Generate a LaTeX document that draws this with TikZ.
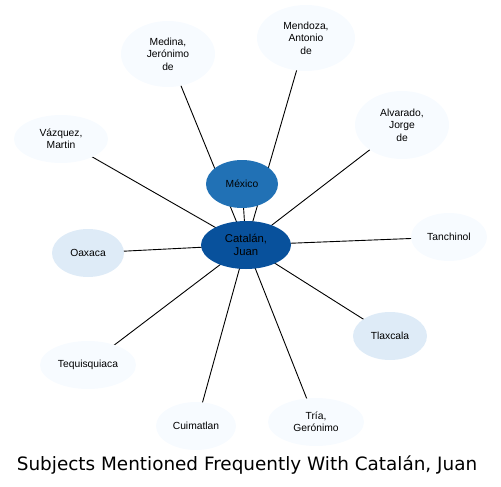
\documentclass[tikz,border=0pt]{standalone}
\usepackage{fontspec}
\setmainfont{Liberation Sans}
\newfontfamily\titlefont{DejaVu Sans}
\usetikzlibrary{shapes.geometric}
\pgfdeclarelayer{bg}
\pgfsetlayers{bg,main}
\definecolor{cdark}{HTML}{08519C}
\definecolor{cmid}{HTML}{2171B5}
\definecolor{clight}{HTML}{DEEBF7}
\definecolor{cpale}{HTML}{F7FBFF}
\begin{document}
\begin{tikzpicture}[x=1pt,y=-1pt,
  bub/.style={ellipse,inner sep=0pt,outer sep=0pt,align=center,font=\fontsize{10.3}{12.5}\selectfont},
  pale/.style={bub,fill=cpale},
  light/.style={bub,fill=clight},
  link/.style={draw=black,line width=0.9pt}]
\useasboundingbox (0,0) rectangle (501,487);
\node[bub,fill=cdark,minimum width=90,minimum height=48,font=\fontsize{11.3}{13.5}\selectfont] (cat) at (246,245) {Catalán,\\Juan};
\node[bub,fill=cmid,minimum width=72,minimum height=48] (mex) at (242,184) {México};
\node[pale,minimum width=94,minimum height=66] (med) at (168,54) {Medina,\\Jerónimo\\de};
\node[pale,minimum width=98,minimum height=66] (men) at (306,38) {Mendoza,\\Antonio\\de};
\node[pale,minimum width=94,minimum height=68] (alv) at (402,125) {Alvarado,\\Jorge\\de};
\node[pale,minimum width=94,minimum height=48] (vaz) at (61,139) {Vázquez,\\Martin};
\node[light,minimum width=72,minimum height=48] (oax) at (88,253) {Oaxaca};
\node[pale,minimum width=76,minimum height=48] (tan) at (449,237) {Tanchinol};
\node[light,minimum width=74,minimum height=48] (tla) at (390,336) {Tlaxcala};
\node[pale,minimum width=96,minimum height=48] (teq) at (88,365) {Tequisquiaca};
\node[pale,minimum width=80,minimum height=48] (cui) at (196,426) {Cuimatlan};
\node[pale,minimum width=96,minimum height=48] (tri) at (316,422) {Tría,\\Gerónimo};
\begin{pgfonlayer}{bg}
\foreach \n in {mex,med,men,alv,vaz,oax,tan,tla,teq,cui,tri}
  \draw[link] (cat.center) -- (\n.center);
\end{pgfonlayer}
\node[font=\titlefont\fontsize{18.4}{20}\selectfont,inner sep=0pt] (title) at (247,465) {Subjects Mentioned Frequently With Catalán, Juan};
\end{tikzpicture}
\end{document}
